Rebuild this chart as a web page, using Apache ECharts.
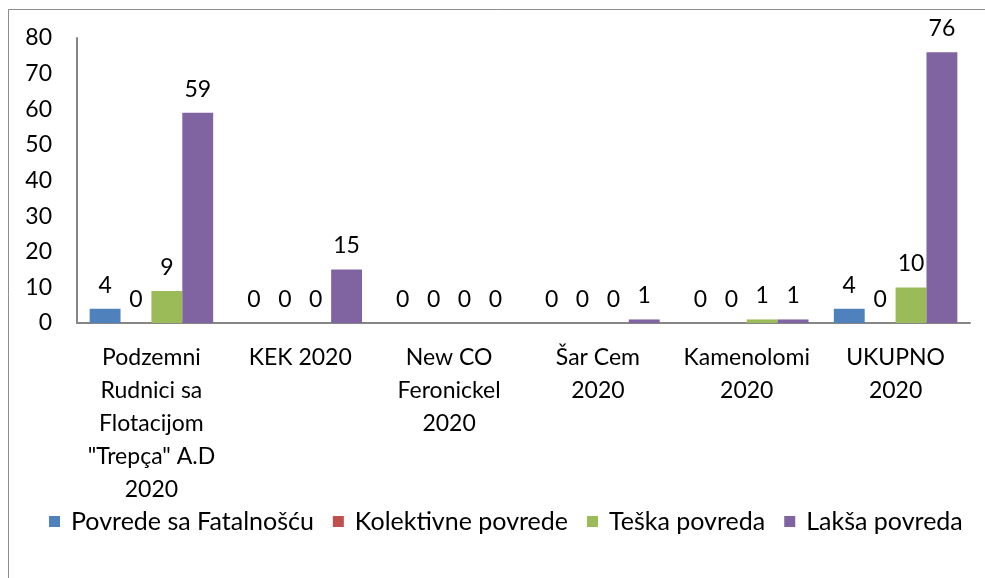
<!DOCTYPE html>
<html>
<head>
<meta charset="utf-8">
<script src="https://cdn.jsdelivr.net/npm/echarts@6/dist/echarts.min.js"></script>
<style>
  html, body { margin: 0; padding: 0; background: #fff; }
  #chart { width: 985px; height: 578px; }
</style>
</head>
<body>
<div id="chart"></div>
<script>
// kategorije i vrijednosti
const categories = [
  'Podzemni\nRudnici sa\nFlotacijom\n"Trepça" A.D\n2020',
  'KEK 2020',
  'New CO\nFeronickel\n2020',
  'Šar Cem\n2020',
  'Kamenolomi\n2020',
  'UKUPNO\n2020'
]
const seriesNames = ['Povrede sa Fatalnošću', 'Kolektivne povrede', 'Teška povreda', 'Lakša povreda']
const fatal = [4, 0, 0, 0, 0, 4]
const kolektivne = [0, 0, 0, 0, 0, 0]
const teska = [9, 0, 0, 0, 1, 10]
const laksa = [59, 15, 0, 1, 1, 76]
const yTicks = [0, 10, 20, 30, 40, 50, 60, 70, 80]

const colors = ['#4F81BD', '#C0504D', '#9BBB59', '#8064A2']
const font = 'Lato, "Open Sans", sans-serif'

const chart = echarts.init(document.getElementById('chart'))

const makeSeries = (name, data, i) => ({
  name: name,
  type: 'bar',
  data: data,
  barGap: '0%',
  barCategoryGap: '17%',
  itemStyle: { color: colors[i] },
  label: {
    show: true,
    position: 'top',
    distance: 12,
    color: '#000',
    fontSize: 23,
    fontFamily: font
  }
})

chart.setOption({
  animation: false,
  color: colors,
  graphic: [{
    type: 'rect',
    shape: { x: 8.5, y: 9.5, width: 1000, height: 600 },
    style: { fill: 'none', stroke: '#8c8c8c', lineWidth: 1 },
    silent: true
  }],
  grid: { left: 77, right: 15, top: 38, bottom: 255 },
  legend: {
    bottom: 39,
    left: 44,
    itemWidth: 11,
    itemHeight: 11,
    itemGap: 19,
    icon: 'rect',
    textStyle: { fontSize: 25, fontFamily: font, color: '#000', padding: [0, 0, 0, 6] },
    data: seriesNames
  },
  xAxis: {
    type: 'category',
    data: categories,
    axisLine: { lineStyle: { color: '#868686', width: 2 } },
    axisTick: { show: false },
    axisLabel: {
      color: '#000',
      fontSize: 23,
      fontFamily: font,
      lineHeight: 33,
      margin: 18,
      interval: 0
    }
  },
  yAxis: {
    type: 'value',
    min: yTicks[0],
    max: yTicks[yTicks.length - 1],
    interval: 10,
    axisLine: { show: true, lineStyle: { color: '#868686', width: 2 } },
    axisTick: { show: false },
    splitLine: { show: false },
    axisLabel: {
      color: '#000',
      fontSize: 23,
      fontFamily: font,
      margin: 25
    }
  },
  series: [
    makeSeries(seriesNames[0], fatal, 0),
    makeSeries(seriesNames[1], kolektivne, 1),
    makeSeries(seriesNames[2], teska, 2),
    makeSeries(seriesNames[3], laksa, 3)
  ]
})
</script>
</body>
</html>
